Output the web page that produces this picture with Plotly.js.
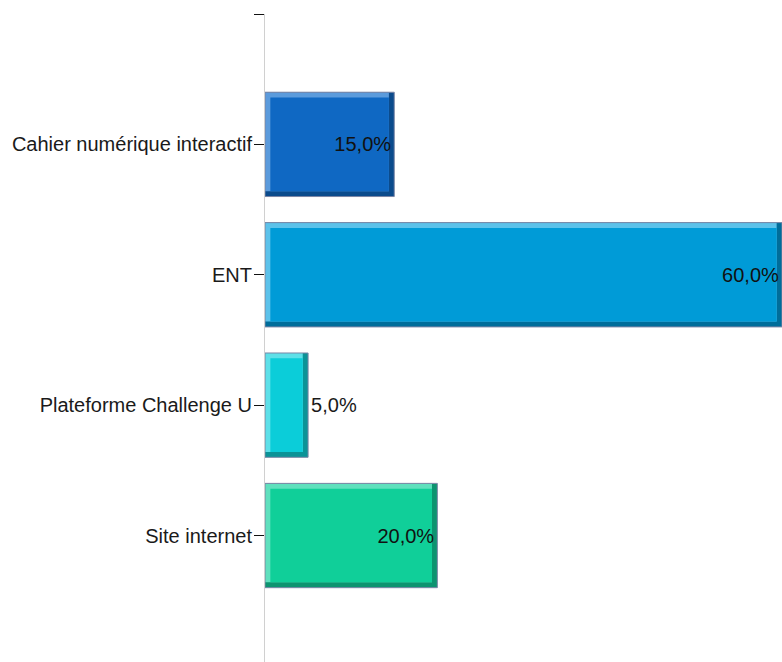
<!DOCTYPE html>
<html>
<head>
<meta charset="utf-8">
<script src="https://cdn.plot.ly/plotly-3.0.1.min.js"></script>
<style>html,body{margin:0;padding:0;background:#fff;}#chart{width:782px;height:662px;}</style>
</head>
<body>
<div id="chart"></div>
<script>
// Data
const categories = ["Cahier numérique interactif", "ENT", "Plateforme Challenge U", "Site internet"];
const percentages = [15, 60, 5, 20];
const valueLabels = ["15,0%", "60,0%", "5,0%", "20,0%"];

// Styles
const mainColors  = ["#0f68c3", "#009bd7", "#0bcdd9", "#10cf99"];
const lightColors = ["#5b9bdc", "#5cc2ea", "#5ee0e8", "#5fe0bd"];
const darkColors  = ["#0b4b8c", "#006d9a", "#0b9397", "#0d9470"];

const pos = categories.map((c, i) => i + 1);
const barW = 0.8;
const dx = 0.62;   // bevel thickness in value units (~5px)
const dy = 0.041;  // bevel thickness in category units (~5px)

const FONT = "Liberation Sans, Arial, sans-serif";
const common = {type: "bar", orientation: "h", y: pos, hoverinfo: "skip", showlegend: false};

const traces = [
  Object.assign({}, common, {
    x: percentages, width: barW,
    marker: {color: darkColors, line: {width: 0}}
  }),
  Object.assign({}, common, {
    x: percentages.map(v => v - dx), base: 0, offset: -barW / 2, width: barW - dy,
    marker: {color: lightColors, line: {width: 0}}
  }),
  Object.assign({}, common, {
    x: percentages.map(v => v - 2 * dx), base: dx, offset: -barW / 2 + dy, width: barW - 2 * dy,
    marker: {color: mainColors, line: {width: 0}}
  }),
  Object.assign({}, common, {
    x: percentages, width: barW,
    marker: {color: "rgba(0,0,0,0)", line: {color: "#7a86a6", width: 1}},
    text: valueLabels,
    textposition: percentages.map(v => v < 10 ? "outside" : "inside"),
    insidetextanchor: "end",
    textangle: 0,
    constraintext: "none",
    insidetextfont: {family: FONT, size: 20, color: "#111111"},
    outsidetextfont: {family: FONT, size: 20, color: "#1a1a1a"},
    cliponaxis: false
  })
];

const layout = {
  width: 782, height: 662,
  margin: {l: 265, r: 0, t: 14, b: 0, pad: 0},
  paper_bgcolor: "#ffffff", plot_bgcolor: "#ffffff",
  barmode: "overlay",
  font: {family: FONT, size: 20, color: "#1a1a1a"},
  xaxis: {range: [0, 60], showgrid: false, zeroline: false, showticklabels: false, showline: false, ticks: ""},
  yaxis: {
    range: [4.97, 0],
    tickmode: "array",
    tickvals: [0].concat(pos),
    ticktext: [""].concat(categories),
    ticks: "outside", ticklen: 10, tickwidth: 1, tickcolor: "#111111",
    ticklabelstandoff: -2,
    showline: true, linecolor: "#d0d0d0", linewidth: 1,
    showgrid: false, zeroline: false,
    tickfont: {family: FONT, size: 20, color: "#1a1a1a"}
  }
};

Plotly.newPlot("chart", traces, layout, {displayModeBar: false, staticPlot: true});
</script>
</body>
</html>
